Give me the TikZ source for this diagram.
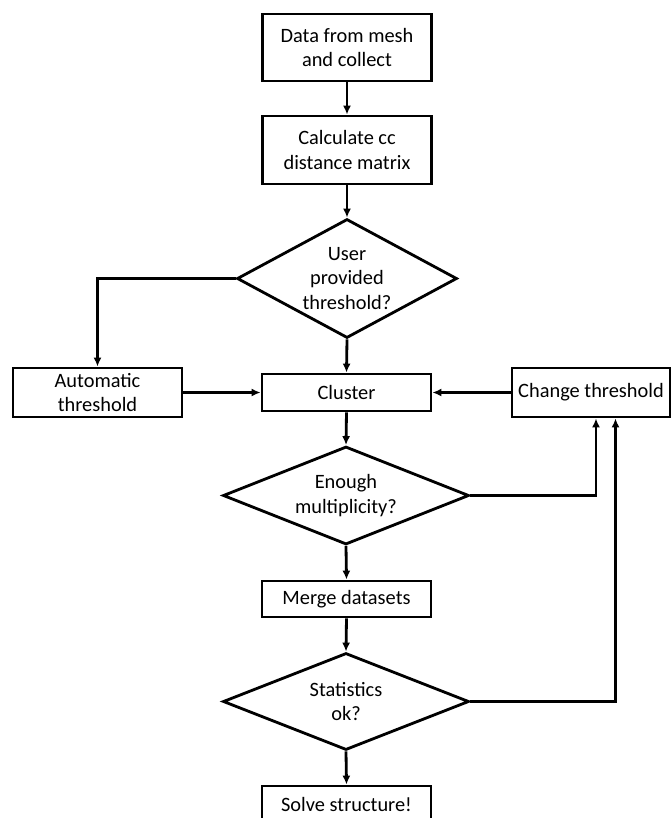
\documentclass[tikz,border=0pt]{standalone}
\usepackage{fontspec}
\setmainfont{Carlito}
\usepackage{tikz}
\usetikzlibrary{shapes.geometric,arrows.meta}
\tikzset{
	procbox/.style={draw, line width=1.6pt, minimum width=3.38cm, align=center, inner sep=0pt},
	decision/.style={draw, diamond, line width=1.6pt, inner sep=0pt, minimum width=4.92cm, minimum height=1.96cm},
	flow/.style={line width=1.6pt, -{Latex[length=1.8mm,width=1.6mm]}},
	link/.style={line width=1.6pt}
}

\begin{document}
\begin{tikzpicture}[font=\fontsize{11.6pt}{14.2pt}\selectfont]		%clustering flowchart
	\useasboundingbox (0,0) rectangle (13.42,-16.36);
	
	%main column
	\node[procbox, minimum height=1.34cm] (data) at (6.94,-0.95) {Data from mesh\\and collect};
	\node[procbox, minimum height=1.36cm] (dist) at (6.94,-3.0) {Calculate cc\\distance matrix};
	\node[decision, minimum width=4.4cm, minimum height=2.38cm,
		label={[align=center]center:User\\provided\\threshold?}] (user) at (6.94,-5.57) {};
	\node[procbox, minimum height=0.74cm] (cluster) at (6.93,-7.85) {Cluster};
	\node[decision, label={[align=center]center:Enough\\multiplicity?}] (enough) at (6.92,-9.91) {};
	\node[procbox, minimum height=0.72cm] (merge) at (6.93,-11.98) {Merge datasets};
	\node[decision, minimum height=1.94cm, label={[align=center]center:Statistics\\ok?}] (stats) at (6.92,-14.03) {};
	\node[procbox, minimum height=0.72cm] (solve) at (6.93,-16.08) {Solve structure!};	%bottom edge falls off the page
	
	%side boxes
	\node[procbox, minimum height=0.98cm] (auto) at (1.95,-7.85) {Automatic\\threshold};
	\node[procbox, minimum width=3.16cm, minimum height=0.98cm] (change) at (11.82,-7.85) {Change threshold};
	
	%arrows down the middle
	\draw[flow] (data.south) -- (dist.north);
	\draw[flow] (dist.south) -- (user.north);
	\draw[flow] (user.south) -- (cluster.north);
	\draw[flow] (cluster.south) -- (enough.north);
	\draw[flow] (enough.south) -- (merge.north);
	\draw[flow] (merge.south) -- (stats.north);
	\draw[flow] (stats.south) -- (solve.north);
	
	%branches
	\draw[flow] (user.west) -| (auto.north);
	\draw[flow] (auto.east) -- (cluster.west);
	\draw[flow] (change.west) -- (cluster.east);
	\draw[flow] (enough.east) -| ([xshift=0.1cm]change.south);		%not enough
	\draw[flow] (stats.east) -| ([xshift=0.49cm]change.south);		%statistics bad
\end{tikzpicture}
\end{document}
